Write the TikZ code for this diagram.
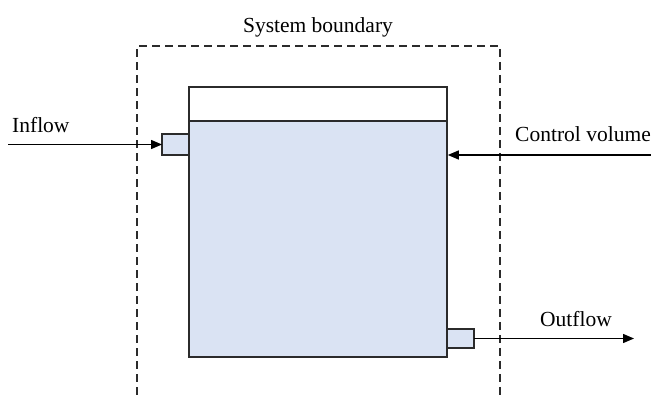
\documentclass[tikz,border=0pt]{standalone}
\usepackage{fontspec}
\setmainfont{Liberation Serif}
\usetikzlibrary{arrows.meta}
\definecolor{tankblue}{HTML}{DAE3F3}
\definecolor{edge}{HTML}{2B2B2B}
\begin{document}
\begin{tikzpicture}[x=1pt,y=-1pt,
  part/.style={draw=edge,line width=1.6pt,inner sep=0pt,outer sep=0pt},
  flow/.style={draw=black,line width=1.4pt,-{Triangle[length=11pt,width=9pt]}},
  boundary/.style={draw=edge,line width=1.3pt,dash pattern=on 8pt off 5pt},
  label/.style={font=\fontsize{21.5}{26}\selectfont,inner sep=0pt}]
\useasboundingbox (0,0) rectangle (651,395);
% system boundary (open at bottom)
\draw[boundary] (137,395) -- (137,46) -- (500,46) -- (500,395);
\node[label,anchor=base] (sb) at (318,33) {System boundary};
% tank
\node[part,fill=tankblue,minimum width=258pt,minimum height=236pt] (tank) at (318,239) {};
\node[part,fill=white,minimum width=258pt,minimum height=34pt] (tanktop) at (318,104) {};
% pipes
\node[part,fill=tankblue,minimum width=27pt,minimum height=21pt] (inlet) at (175.5,144.5) {};
\node[part,fill=tankblue,minimum width=27pt,minimum height=19pt] (outlet) at (460.5,338.5) {};
% arrows
\coordinate (instart) at (8,144.5);
\draw[flow] (instart) -- (inlet.west);
\coordinate (cvstart) at (651,155);
\coordinate (cvend) at (447.8,155);
\draw[flow] (cvstart) -- (cvend);
\coordinate (outend) at (634,338.5);
\draw[flow] (outlet.east) -- (outend);
% labels
\node[label,anchor=base west] (inl) at (12,133) {Inflow};
\node[label,anchor=base east] (cvl) at (651,142) {Control volume};
\node[label,anchor=base west] (outl) at (540,327) {Outflow};
\end{tikzpicture}
\end{document}
